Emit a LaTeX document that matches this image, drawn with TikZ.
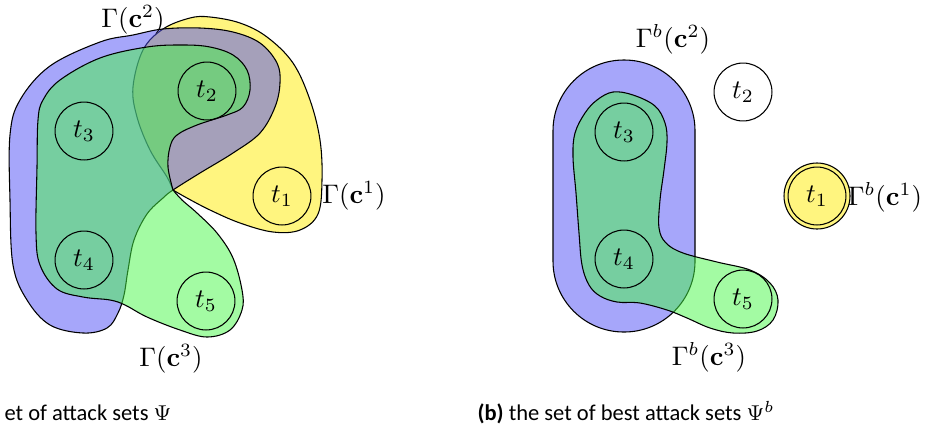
\documentclass[tikz,border=0pt]{standalone}
\usepackage{amsmath}
\usepackage[no-math]{fontspec}
\setmainfont{Carlito}
\begin{document}
\begin{tikzpicture}[x=0.373pt,y=-0.373pt,
  yelreg/.style={fill={rgb,255:red,255;green,235;blue,0},fill opacity=0.5,draw=black,line width=0.4pt},
  blureg/.style={fill={rgb,255:red,77;green,77;blue,245},fill opacity=0.5,draw=black,line width=0.4pt},
  grnreg/.style={fill={rgb,255:red,71;green,247;blue,71},fill opacity=0.5,draw=black,line width=0.4pt},
  tnode/.style={circle,draw=black,line width=0.4pt,minimum size=21.6pt,inner sep=0pt,font=\fontsize{10}{12}\selectfont},
  lbl/.style={inner sep=0pt,font=\fontsize{10}{12}\selectfont},
  captxt/.style={inner sep=0pt,font=\fontsize{8.4}{10}\selectfont}]
\useasboundingbox (0,0) rectangle (935,434);
% ---------------- left figure ----------------
\coordinate (C) at (173,190);
\draw[yelreg] plot[smooth,tension=0.6] coordinates {(173,190) (167,177) (150,150) (137,117) (133,87) (143,50) (163,29) (190,18) (210,17) (240,23) (267,37) (293,63) (310,100) (320,140) (322,180) (318,214) (300,230) (273,232) (240,223) (210,210) (187,198) (173,190)} -- cycle;
\draw[blureg] plot[smooth cycle,tension=0.6] coordinates {(173,190) (200,173) (233,153) (260,133) (275,107) (280,83) (277,63) (260,43) (233,32) (200,28) (163,29) (133,35) (100,42) (50,66) (20,100) (10,135) (10,200) (13,265) (27,300) (50,325) (83,333) (107,328) (118,313) (124,295) (128,270) (134,240) (147,214) (163,198)};
\draw[grnreg] plot[smooth,tension=0.6] coordinates {(173,190) (168,167) (170,147) (177,135) (197,125) (227,115) (243,107) (250,90) (247,70) (233,55) (210,47) (183,45) (147,47) (100,58) (60,80) (43,100) (38,120) (37,167) (36,233) (40,265) (57,289) (83,297) (110,300) (125,305) (147,317) (180,330) (207,337) (230,330) (242,310) (242,290) (233,258) (217,233) (197,213) (182,200) (173,190)} -- cycle;
\node[tnode] (a1) at (282,196) {$t_1$};
\node[tnode] (a2) at (207,91) {$t_2$};
\node[tnode] (a3) at (84,131) {$t_3$};
\node[tnode] (a4) at (84,260) {$t_4$};
\node[tnode] (a5) at (206,301) {$t_5$};
\node[lbl] (ga2) at (133,20) {$\Gamma(\mathbf{c}^2)$};
\node[lbl] (ga1) at (354,196) {$\Gamma(\mathbf{c}^1)$};
\node[lbl] (ga3) at (171,359) {$\Gamma(\mathbf{c}^3)$};
\node[captxt,anchor=base west] (capa) at (4,420) {et of attack sets $\Psi$};
% ---------------- right figure ----------------
\draw[yelreg] (817,196) circle[radius=33];
\draw[blureg,rounded corners=26.4pt] (553,60) rectangle (695,332);
\draw[grnreg] plot[smooth cycle,tension=0.6] coordinates {(597,100) (613,92) (633,95) (655,106) (665,123) (667,142) (664,170) (660,200) (659,228) (666,243) (683,253) (717,262) (750,270) (770,283) (778,300) (773,320) (757,331) (733,333) (710,328) (687,318) (667,310) (640,303) (617,302) (600,296) (589,285) (582,265) (579,233) (576,193) (573,157) (575,133) (585,113)};
\node[tnode] (b1) at (817,196) {$t_1$};
\node[tnode] (b2) at (743,92) {$t_2$};
\node[tnode] (b3) at (624,132) {$t_3$};
\node[tnode] (b4) at (624,259) {$t_4$};
\node[tnode] (b5) at (743,299) {$t_5$};
\node[lbl] (gb2) at (673,39) {$\Gamma^b(\mathbf{c}^2)$};
\node[lbl] (gb1) at (885,197) {$\Gamma^b(\mathbf{c}^1)$};
\node[lbl] (gb3) at (709,357) {$\Gamma^b(\mathbf{c}^3)$};
\node[captxt,anchor=base west] (capb) at (477,420) {\textbf{(b)} the set of best attack sets $\Psi^b$};
\end{tikzpicture}
\end{document}
